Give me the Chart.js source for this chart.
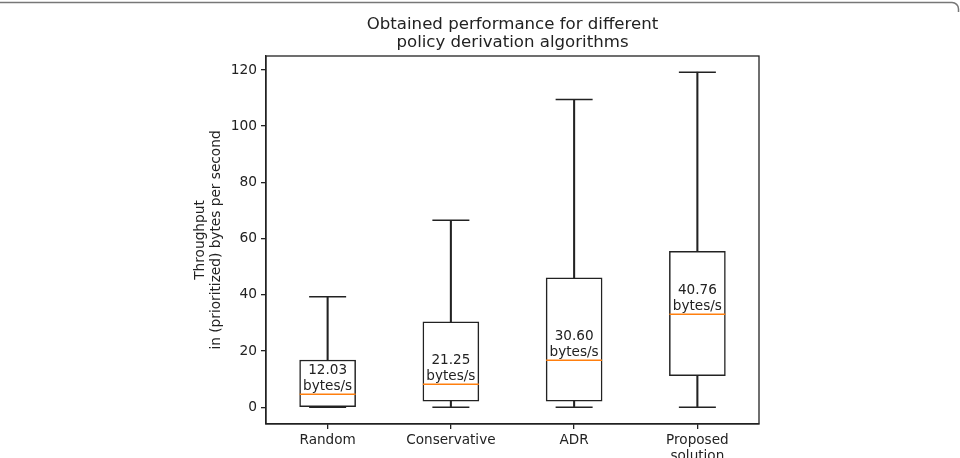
<!DOCTYPE html>
<html>
<head>
<meta charset="utf-8">
<script src="https://cdn.jsdelivr.net/npm/chart.js@4.4.0/dist/chart.umd.min.js"></script>
<style>
html,body{margin:0;padding:0;background:#fff;}
#wrap{width:960px;height:458px;position:relative;}
</style>
</head>
<body>
<div id="wrap"><canvas id="c" width="960" height="458"></canvas></div>
<script>
const categories = ['Random', 'Conservative', 'ADR', ['Proposed', 'solution']];
const whiskerLow = [0, 0, 0, 0];
const q1 = [0, 2.2, 2.2, 11.2];
const median = [4.6, 8.2, 16.7, 33.1];
const q3 = [16.8, 30.4, 46.0, 55.5];
const whiskerHigh = [39.3, 66.5, 109.5, 119.2];
const meanLabels = ['12.03', '21.25', '30.60', '40.76'];
const yTicks = [0, 20, 40, 60, 80, 100, 120];
const titleLines = ['Obtained performance for different', 'policy derivation algorithms'];
const yTitle = ['Throughput', 'in (prioritized) bytes per second'];

const FONT = 'DejaVu Sans';
const INK = '#222';

const decorPlugin = {
  id: 'decor',
  beforeDraw(chart) {
    const ctx = chart.ctx;
    ctx.save();
    ctx.fillStyle = '#fff';
    ctx.fillRect(0, 0, chart.width, chart.height);
    // outer figure frame (top edge with rounded corner)
    ctx.strokeStyle = '#777';
    ctx.lineWidth = 1.5;
    ctx.beginPath();
    ctx.moveTo(-2, 2.5);
    ctx.lineTo(952, 2.5);
    ctx.arcTo(958.5, 2.5, 958.5, 9, 6.5);
    ctx.lineTo(958.5, 12);
    ctx.stroke();
    ctx.restore();
  },
  afterDraw(chart) {
    const ctx = chart.ctx;
    const a = chart.chartArea;
    ctx.save();
    // full plot frame
    ctx.strokeStyle = INK;
    ctx.lineWidth = 1.3;
    ctx.strokeRect(a.left, a.top, a.right - a.left, a.bottom - a.top);
    // title centred over the plot area
    ctx.fillStyle = INK;
    ctx.font = '16.6px "' + FONT + '"';
    ctx.textAlign = 'center';
    ctx.textBaseline = 'alphabetic';
    const cx = (a.left + a.right) / 2;
    ctx.fillText(titleLines[0], cx, 28.5);
    ctx.fillText(titleLines[1], cx, 47);
    ctx.restore();
  },
  afterDatasetsDraw(chart) {
    const ctx = chart.ctx;
    const xs = chart.scales.x, ys = chart.scales.y;
    ctx.save();
    ctx.fillStyle = INK;
    ctx.font = '13.6px "' + FONT + '"';
    ctx.textAlign = 'center';
    ctx.textBaseline = 'alphabetic';
    for (let i = 0; i < median.length; i++) {
      const x = xs.getPixelForValue(i);
      const y = ys.getPixelForValue(median[i]);
      ctx.fillText('bytes/s', x, y - 4.5);
      ctx.fillText(meanLabels[i], x, y - 20);
    }
    ctx.restore();
  }
};

new Chart(document.getElementById('c'), {
  type: 'bar',
  data: {
    labels: categories,
    datasets: [
      {
        type: 'line', label: 'median', data: median, order: 0,
        showLine: false, pointStyle: 'line', pointRadius: 28, pointHoverRadius: 28,
        borderColor: '#ff7f0e', pointBorderColor: '#ff7f0e', pointBorderWidth: 1.5, borderWidth: 1.5
      },
      {
        type: 'line', label: 'capLow', data: whiskerLow, order: 1,
        showLine: false, pointStyle: 'line', pointRadius: 18.5, pointHoverRadius: 18.5,
        borderColor: INK, pointBorderColor: INK, pointBorderWidth: 1.5, borderWidth: 1.5
      },
      {
        type: 'line', label: 'capHigh', data: whiskerHigh, order: 1,
        showLine: false, pointStyle: 'line', pointRadius: 18.5, pointHoverRadius: 18.5,
        borderColor: INK, pointBorderColor: INK, pointBorderWidth: 1.5, borderWidth: 1.5
      },
      {
        label: 'box', data: q1.map((v, i) => [v, q3[i]]), order: 2, grouped: false,
        barThickness: 56, backgroundColor: '#fff', borderColor: INK, borderWidth: 1.5,
        borderSkipped: false
      },
      {
        label: 'whiskerLow', data: q1.map((v, i) => [whiskerLow[i], v]), order: 3, grouped: false,
        barThickness: 1.4, backgroundColor: INK, borderWidth: 0
      },
      {
        label: 'whiskerHigh', data: q3.map((v, i) => [v, whiskerHigh[i]]), order: 3, grouped: false,
        barThickness: 1.4, backgroundColor: INK, borderWidth: 0
      }
    ]
  },
  options: {
    responsive: false,
    animation: false,
    layout: { padding: { left: 188, right: 201, top: 56, bottom: 0 } },
    plugins: { legend: { display: false }, tooltip: { enabled: false }, title: { display: false } },
    scales: {
      x: {
        offset: true,
        grid: { display: true, drawOnChartArea: false, drawTicks: true, tickLength: 5, color: INK, lineWidth: 1.3, offset: false },
        border: { display: true, color: INK, width: 1.3 },
        ticks: { color: INK, font: { family: FONT, size: 13.6 }, padding: 3, maxRotation: 0, autoSkip: false },
        afterFit(scale) { scale.height = 34; }
      },
      y: {
        min: -5.95, max: 124.95,
        afterBuildTicks(scale) { scale.ticks = yTicks.map(v => ({ value: v })); },
        grid: { display: true, drawOnChartArea: false, drawTicks: true, tickLength: 5, color: INK, lineWidth: 1.3 },
        border: { display: true, color: INK, width: 1.3 },
        ticks: { color: INK, font: { family: FONT, size: 13.8 }, padding: 4 },
        title: { display: true, text: yTitle, color: INK, font: { family: FONT, size: 13.7 }, padding: { top: 4, bottom: 4 } },
        afterFit(scale) { scale.width = 78; }
      }
    }
  },
  plugins: [decorPlugin]
});
</script>
</body>
</html>
